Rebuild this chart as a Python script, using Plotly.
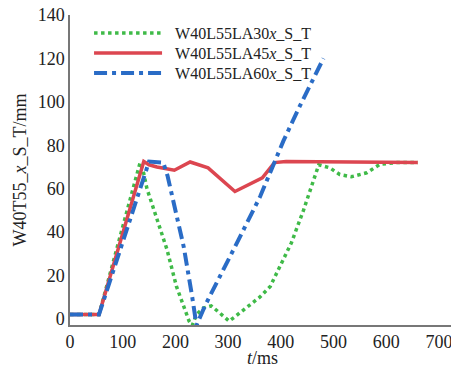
import plotly.graph_objects as go

# ---- data ----
t_la30 = [0, 55, 133, 140, 146, 158, 165, 184, 202, 216, 226, 232, 240, 253, 268, 278, 291, 302, 313, 323,
          345, 360, 380, 392, 398, 420, 443, 459, 472, 493, 512, 534, 563, 588, 620, 660]
y_la30 = [2, 2, 72, 67, 60, 51, 47, 32, 15, 5, -1, -3, 2, 5, 6, 4, 1.4, -1, 1, 3,
          7, 10, 15, 21, 24, 35, 50, 61, 71, 69.6, 66.5, 65.5, 67.3, 71.2, 72, 72]

t_la45 = [0, 55, 140, 150, 165, 180, 198, 228, 262, 313, 365, 388, 410, 660]
y_la45 = [2, 2, 72.5, 71, 70, 69.5, 68.5, 72.3, 69.6, 58.7, 65, 72, 72.5, 72]

t_la60 = [0, 55, 150, 177, 185, 198, 216, 232, 240, 256, 285, 323, 361, 405, 436, 481]
y_la60 = [2, 2, 72.5, 72, 66, 52, 33, 10, -3, 6, 19.5, 38, 56.5, 82, 98, 120]

names = ["\u00a0\u00a0W40L55LA30<i>x</i>_S_T", "\u00a0\u00a0W40L55LA45<i>x</i>_S_T",
         "\u00a0\u00a0W40L55LA60<i>x</i>_S_T"]
x_ticks = [0, 100, 200, 300, 400, 500, 600, 700]
y_ticks = [0, 20, 40, 60, 80, 100, 120, 140]

FONT = "Liberation Serif"
TXT = "#222222"

fig = go.Figure()
fig.add_trace(go.Scatter(x=t_la30, y=y_la30, mode="lines", name=names[0], legend="legend",
                         line=dict(color="#3fba48", width=3.5, dash="dot")))
fig.add_trace(go.Scatter(x=t_la45, y=y_la45, mode="lines", name=names[1], legend="legend2",
                         line=dict(color="#dc4650", width=3.5)))
fig.add_trace(go.Scatter(x=t_la60, y=y_la60, mode="lines", name=names[2], legend="legend3",
                         line=dict(color="#2a6cc6", width=4, dash="13px,5px,4px,5px")))

def leg(ypix):
    return dict(x=0.05, y=(325 - ypix) / 310, xanchor="left", yanchor="middle",
                bgcolor="rgba(255,255,255,0)", font=dict(size=16, family=FONT, color=TXT),
                itemwidth=68, borderwidth=0)

fig.update_layout(
    width=451, height=369,
    margin=dict(l=70, r=0, t=15, b=44),
    paper_bgcolor="white", plot_bgcolor="white",
    font=dict(family=FONT, size=18, color=TXT),
    showlegend=True,
    legend=leg(33), legend2=leg(53), legend3=leg(73),
    annotations=[dict(text="<i>t</i>/ms", xref="paper", yref="paper", x=0.505, y=-0.107,
                      xanchor="center", yanchor="middle", showarrow=False,
                      font=dict(size=18, family=FONT, color=TXT))],
)
fig.update_xaxes(range=[0, 723], tickvals=x_ticks, showgrid=False, zeroline=False,
                 showline=True, linecolor="#777", linewidth=1.5, ticks="",
                 ticklabeloverflow="allow")
fig.update_yaxes(range=[-2.8, 140], tickvals=y_ticks, showgrid=False, zeroline=False,
                 showline=True, linecolor="#777", linewidth=1.5, ticks="",
                 title=dict(text="W40T55_<i>x</i>_S_T/mm", standoff=6, font=dict(size=18)))

fig.write_html("out.html", config={"displayModeBar": False},
               post_script="document.body.style.margin='0';document.body.style.overflow='hidden';")
